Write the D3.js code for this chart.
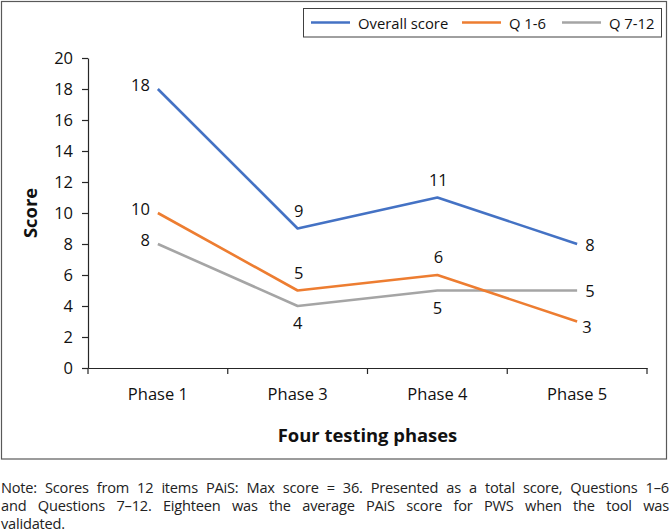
<!DOCTYPE html>
<html>
<head>
<meta charset="utf-8">
<script src="https://cdn.jsdelivr.net/npm/d3@7"></script>
<style>
  body { margin: 0; background: #fff; font-family: "Open Sans", sans-serif; }
  #wrap { position: relative; width: 670px; height: 532px; overflow: hidden; }
  svg { position: absolute; left: 0; top: 0; }
  .note { position: absolute; left: 1px; top: 478px; width: 668px; font-size: 14.6px; letter-spacing: -0.2px; line-height: 18px; color: #222; }
  .note div { height: 18px; text-align: justify; text-align-last: justify; white-space: nowrap; }
  .note div.last { text-align-last: left; }
</style>
</head>
<body>
<div id="wrap"></div>
<script>
// data
const phases = ["Phase 1", "Phase 3", "Phase 4", "Phase 5"];
const overallScore = [18, 9, 11, 8];
const q1to6 = [10, 5, 6, 3];
const q7to12 = [8, 4, 5, 5];
const seriesNames = ["Overall score", "Q 1-6", "Q 7-12"];
const yTickValues = [0, 2, 4, 6, 8, 10, 12, 14, 16, 18, 20];
const noteLines = [
  "Note: Scores from 12 items PAiS: Max score = 36. Presented as a total score, Questions 1–6",
  "and Questions 7–12. Eighteen was the average PAiS score for PWS when the tool was",
  "validated."
];

// styling / label placement (not data)
const colors = ["#4472C4", "#ED7D31", "#A5A5A5"];
const labelPlacement = [
  ["left", "above", "above", "right"],
  ["left", "above", "above", "rightLow"],
  ["left", "below", "below", "right"]
];
const placeOffsets = {
  left:     { dx: -8, dy: -5, anchor: "end" },
  above:    { dx: 1, dy: -18.5, anchor: "middle" },
  below:    { dx: 0, dy: 16.5, anchor: "middle" },
  right:    { dx: 8, dy: 0, anchor: "start" },
  rightLow: { dx: 5, dy: 5, anchor: "start" }
};

const width = 670, height = 532;
const margin = { left: 88, right: 23, top: 58, bottom: 164 };

const wrap = d3.select("#wrap");
const svg = wrap.append("svg").attr("width", width).attr("height", height);

// outer frame
svg.append("rect")
  .attr("x", 1.5).attr("y", 1.5)
  .attr("width", 665).attr("height", 457.5)
  .attr("fill", "none")
  .attr("stroke", "#595959")
  .attr("stroke-width", 1.2);

const x = d3.scaleBand()
  .domain(phases)
  .range([margin.left, width - margin.right]);

const y = d3.scaleLinear()
  .domain([0, 20])
  .range([height - margin.bottom, margin.top]);

const series = [overallScore, q1to6, q7to12].map((vals, i) => ({
  name: seriesNames[i],
  color: colors[i],
  values: vals.map((v, j) => ({ phase: phases[j], value: v, place: labelPlacement[i][j] }))
}));

// y axis
const yAxis = svg.append("g")
  .attr("transform", `translate(${margin.left},0)`)
  .call(d3.axisLeft(y).tickValues(yTickValues).tickSize(6).tickPadding(9).tickSizeOuter(0));
yAxis.select(".domain").attr("stroke", "#262626").attr("stroke-width", 1.2);
yAxis.selectAll(".tick line").attr("stroke", "#262626").attr("stroke-width", 1.2);
yAxis.selectAll("text")
  .attr("font-family", "Open Sans, sans-serif")
  .attr("font-size", "16.5px")
  .attr("fill", "#111");

// x axis: labels centred, ticks on band edges
const xAxis = svg.append("g")
  .attr("transform", `translate(0,${y(0)})`)
  .call(d3.axisBottom(x).tickSize(0).tickPadding(20).tickSizeOuter(0));
xAxis.select(".domain").attr("stroke", "#262626").attr("stroke-width", 1.2);
xAxis.selectAll("text")
  .attr("font-family", "Open Sans, sans-serif")
  .attr("font-size", "16.5px")
  .attr("fill", "#111");

const edges = phases.map(p => x(p)).concat([x(phases[phases.length - 1]) + x.bandwidth()]);
xAxis.selectAll(".edge")
  .data(edges)
  .enter()
  .append("line")
  .attr("class", "edge")
  .attr("x1", d => d).attr("x2", d => d)
  .attr("y1", 0).attr("y2", 6)
  .attr("stroke", "#262626")
  .attr("stroke-width", 1.2);

// axis titles
svg.append("text")
  .attr("x", (margin.left + width - margin.right) / 2)
  .attr("y", 434)
  .attr("text-anchor", "middle")
  .attr("dominant-baseline", "central")
  .attr("font-family", "Open Sans, sans-serif")
  .attr("font-weight", "700")
  .attr("font-size", "18.4px")
  .attr("fill", "#111")
  .text("Four testing phases");

svg.append("text")
  .attr("transform", `translate(29,${(y(0) + y(20)) / 2}) rotate(-90)`)
  .attr("text-anchor", "middle")
  .attr("dominant-baseline", "central")
  .attr("font-family", "Open Sans, sans-serif")
  .attr("font-weight", "700")
  .attr("font-size", "18.4px")
  .attr("fill", "#111")
  .text("Score");

// lines
const line = d3.line()
  .x(d => x(d.phase) + x.bandwidth() / 2)
  .y(d => y(d.value));

const lineG = svg.append("g");
lineG.selectAll("path")
  .data(series.slice().reverse())
  .enter()
  .append("path")
  .attr("d", d => line(d.values))
  .attr("fill", "none")
  .attr("stroke", d => d.color)
  .attr("stroke-width", 2.6)
  .attr("stroke-linejoin", "round");

// data labels
const labelG = svg.append("g");
series.forEach(s => {
  labelG.selectAll(null)
    .data(s.values)
    .enter()
    .append("text")
    .attr("x", d => x(d.phase) + x.bandwidth() / 2 + placeOffsets[d.place].dx)
    .attr("y", d => y(d.value) + placeOffsets[d.place].dy)
    .attr("text-anchor", d => placeOffsets[d.place].anchor)
    .attr("dominant-baseline", "central")
    .attr("font-family", "Open Sans, sans-serif")
    .attr("font-size", "16.5px")
    .attr("fill", "#111")
    .text(d => d.value);
});

// legend
const legend = svg.append("g");
legend.append("rect")
  .attr("x", 303.5).attr("y", 8.5)
  .attr("width", 358).attr("height", 28.5)
  .attr("fill", "#fff")
  .attr("stroke", "#404040")
  .attr("stroke-width", 1);

const legendX = [311, 462, 562];
const legendItem = legend.selectAll(".item")
  .data(series)
  .enter()
  .append("g")
  .attr("class", "item")
  .attr("transform", (d, i) => `translate(${legendX[i]},22.5)`);
legendItem.append("line")
  .attr("x1", 0).attr("x2", 39)
  .attr("stroke", d => d.color)
  .attr("stroke-width", 2.6);
legendItem.append("text")
  .attr("x", 47)
  .attr("dominant-baseline", "central")
  .attr("font-family", "Open Sans, sans-serif")
  .attr("font-size", "14.8px")
  .attr("fill", "#111")
  .text(d => d.name);

// note below the chart
wrap.append("div")
  .attr("class", "note")
  .selectAll("div")
  .data(noteLines)
  .enter()
  .append("div")
  .attr("class", (d, i) => i === noteLines.length - 1 ? "last" : null)
  .text(d => d);
</script>
</body>
</html>
